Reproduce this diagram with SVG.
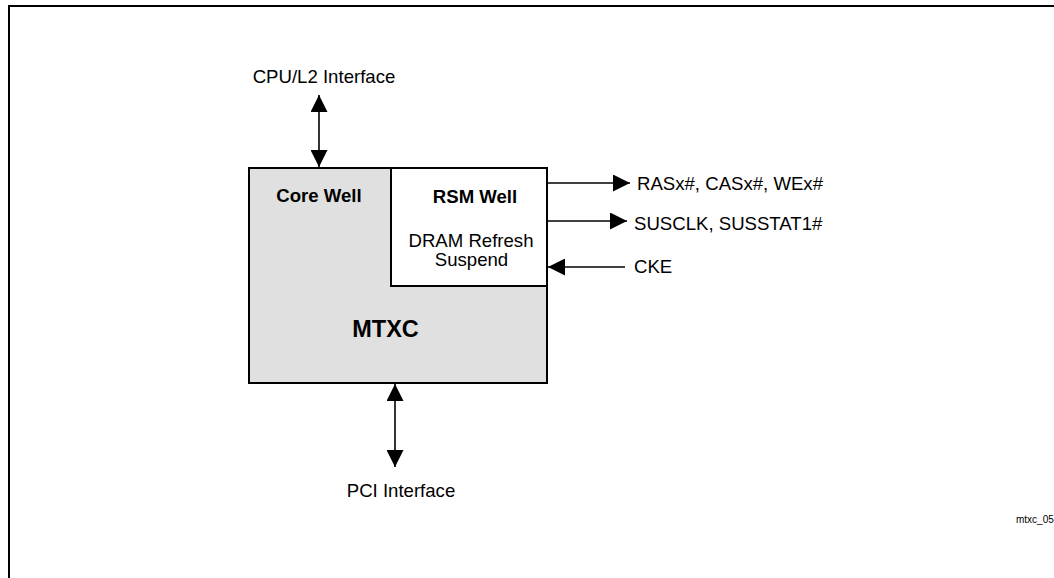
<svg xmlns="http://www.w3.org/2000/svg" width="1054" height="578" viewBox="0 0 1054 578">
<style>
text{font-family:"Liberation Sans",Arial,sans-serif;fill:#000}
.lbl{font-size:18.6px}
.b{font-weight:bold}
.ln{stroke:#000;stroke-width:1.6;fill:none}
.bx{stroke:#000;stroke-width:2}
</style>
<defs>
<marker id="ah" viewBox="0 0 10 10" refX="10" refY="5" markerWidth="17" markerHeight="17" markerUnits="userSpaceOnUse" orient="auto-start-reverse">
<path d="M0,0 L10,5 L0,10 Z" fill="#000"/>
</marker>
</defs>
<rect x="0" y="0" width="1054" height="578" fill="#fff"/>
<path d="M9,578 V6 H1060" stroke="#000" stroke-width="2" fill="none"/>
<g id="mtxc">
<rect class="bx" x="249" y="168" width="298" height="215" fill="#e0e0e0"/>
<text class="b" x="319" y="202" text-anchor="middle" style="font-size:18.6px">Core Well</text>
<text class="b" x="385.5" y="337" text-anchor="middle" style="font-size:23.5px">MTXC</text>
</g>
<g id="rsm">
<rect class="bx" x="391" y="168" width="156" height="118" fill="#fff"/>
<text class="b" x="475" y="203" text-anchor="middle" style="font-size:18.6px">RSM Well</text>
<text class="lbl" x="471" y="247" text-anchor="middle">DRAM Refresh</text>
<text class="lbl" x="471.5" y="266" text-anchor="middle">Suspend</text>
</g>
<g id="connectors">
<line class="ln" x1="319" y1="95" x2="319" y2="167" marker-start="url(#ah)" marker-end="url(#ah)"/>
<line class="ln" x1="395" y1="384" x2="395" y2="467" marker-start="url(#ah)" marker-end="url(#ah)"/>
<line class="ln" x1="548" y1="183" x2="630" y2="183" marker-end="url(#ah)"/>
<line class="ln" x1="548" y1="221" x2="627" y2="221" marker-end="url(#ah)"/>
<line class="ln" x1="625" y1="267" x2="548" y2="267" marker-end="url(#ah)"/>
</g>
<g id="labels">
<text class="lbl" x="324" y="83" text-anchor="middle">CPU/L2 Interface</text>
<text class="lbl" x="401" y="497" text-anchor="middle">PCI Interface</text>
<text class="lbl" x="637" y="190">RASx#, CASx#, WEx#</text>
<text class="lbl" x="634" y="230">SUSCLK, SUSSTAT1#</text>
<text class="lbl" x="634" y="273">CKE</text>
<text x="1016" y="523" style="font-size:10px">mtxc_05</text>
</g>
</svg>
